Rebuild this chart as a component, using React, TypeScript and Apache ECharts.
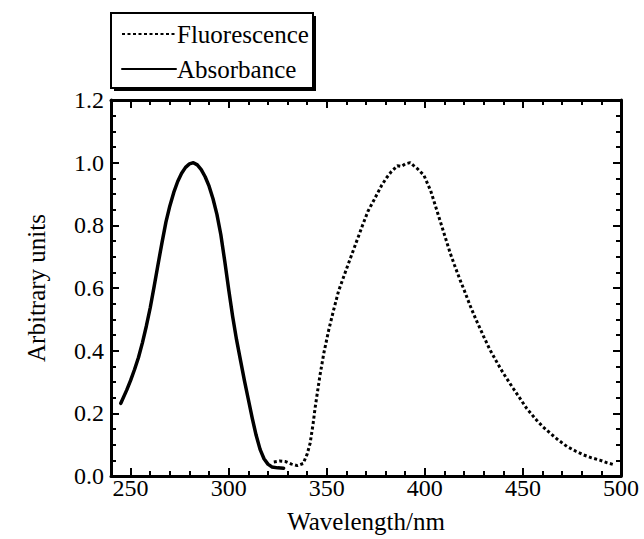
import React, { useEffect, useRef } from "react";
import * as echarts from "echarts";

const absX = [245, 248, 250, 252, 254, 256, 258, 260, 262, 264, 266, 268, 270, 272, 274, 276, 278, 280, 282, 284, 286, 288, 290, 292, 294, 296, 298, 300, 302, 304, 306, 308, 310, 312, 314, 316, 318, 320, 322, 325, 328];
const absY = [0.232, 0.274, 0.305, 0.34, 0.378, 0.425, 0.478, 0.537, 0.605, 0.676, 0.745, 0.81, 0.862, 0.905, 0.94, 0.966, 0.985, 0.996, 1.0, 0.993, 0.978, 0.955, 0.925, 0.885, 0.835, 0.77, 0.685, 0.595, 0.51, 0.435, 0.37, 0.305, 0.245, 0.185, 0.13, 0.085, 0.055, 0.038, 0.029, 0.026, 0.025];

const fluX = [323, 326, 329, 332, 335, 338, 340, 341.5, 343, 344, 346.5, 348.5, 351, 353.5, 356, 360, 363, 365, 368, 371, 374, 376.5, 378, 380.5, 383, 386, 388, 390, 392.5, 394, 396, 399.5, 403, 405.5, 408, 410.5, 413, 415, 418, 420, 423, 426, 430, 433, 437, 440, 445, 449, 452, 457, 460, 464, 468, 472.5, 477, 481, 485, 489.5, 493, 497];
const fluY = [0.045, 0.048, 0.046, 0.038, 0.033, 0.04, 0.07, 0.104, 0.165, 0.215, 0.32, 0.392, 0.466, 0.53, 0.59, 0.66, 0.711, 0.745, 0.796, 0.845, 0.88, 0.91, 0.928, 0.952, 0.972, 0.99, 0.988, 0.996, 1.0, 0.992, 0.982, 0.96, 0.91, 0.86, 0.81, 0.76, 0.71, 0.675, 0.625, 0.594, 0.545, 0.5, 0.445, 0.405, 0.36, 0.328, 0.28, 0.243, 0.215, 0.178, 0.158, 0.136, 0.115, 0.094, 0.079, 0.067, 0.058, 0.05, 0.042, 0.035];

const seriesNames = ["Fluorescence", "Absorbance"];
const xName = "Wavelength/nm";
const yName = "Arbitrary units";

const FONT = "'Liberation Serif', 'Times New Roman', Times, serif";
const INK = "#000";

export default function App() {
  const ref = useRef<HTMLDivElement>(null);
  useEffect(() => {
    if (!ref.current) return;
    const chart = echarts.init(ref.current, undefined, { renderer: "svg" });
    const xBase = {
      type: "value",
      min: 240,
      max: 500,
      splitNumber: 5,
      splitLine: { show: false },
      axisLine: { show: true, onZero: false, lineStyle: { color: INK, width: 3 } },
      axisTick: { show: true, inside: true, length: 8, lineStyle: { color: INK, width: 2 } },
      minorTick: { show: true, splitNumber: 5, length: 5, lineStyle: { color: INK, width: 2 } },
    };
    const yBase = {
      type: "value",
      min: 0,
      max: 1.2,
      interval: 0.2,
      splitLine: { show: false },
      axisLine: { show: true, onZero: false, lineStyle: { color: INK, width: 3 } },
      axisTick: { show: true, inside: true, length: 8, lineStyle: { color: INK, width: 2 } },
      minorTick: { show: true, splitNumber: 4, length: 5, lineStyle: { color: INK, width: 2 } },
    };
    chart.setOption({
      animation: false,
      backgroundColor: "#fff",
      grid: { left: 111, right: 23, top: 100, bottom: 63, containLabel: false },
      graphic: [
        { type: "rect", z: 1, shape: { x: 114, y: 16, width: 202, height: 75 }, style: { fill: INK } },
        { type: "rect", z: 2, shape: { x: 111, y: 13, width: 202, height: 75 }, style: { fill: "#fff", stroke: INK, lineWidth: 2 } },
      ],
      legend: {
        z: 10,
        orient: "vertical",
        left: 121,
        top: 20,
        padding: 0,
        itemGap: 7,
        itemWidth: 54,
        itemHeight: 14,
        itemStyle: { opacity: 0, borderWidth: 0 },
        data: seriesNames,
        textStyle: { fontFamily: FONT, fontSize: 25, color: INK, lineHeight: 28, padding: [0, 0, 0, -4] },
      },
      xAxis: [
        {
          ...xBase,
          position: "bottom",
          name: xName,
          nameLocation: "middle",
          nameGap: 33,
          nameTextStyle: { fontFamily: FONT, fontSize: 25, color: INK },
          axisLabel: { show: true, showMinLabel: false, margin: 0, fontFamily: FONT, fontSize: 24, color: INK },
        },
        { ...xBase, position: "top", axisLabel: { show: false } },
      ],
      yAxis: [
        {
          ...yBase,
          position: "left",
          name: yName,
          nameLocation: "middle",
          nameGap: 62,
          nameTextStyle: { fontFamily: FONT, fontSize: 25, color: INK },
          axisLabel: { show: true, margin: 7, fontFamily: FONT, fontSize: 24, color: INK, formatter: (v: number) => v.toFixed(1) },
        },
        { ...yBase, position: "right", axisLabel: { show: false } },
      ],
      series: [
        {
          name: seriesNames[0],
          type: "line",
          xAxisIndex: 0,
          yAxisIndex: 0,
          symbol: "none",
          smooth: false,
          data: fluX.map((x, i) => [x, fluY[i]]),
          lineStyle: { color: INK, width: 3, type: [3, 2.5], cap: "butt" },
          itemStyle: { color: INK },
        },
        {
          name: seriesNames[1],
          type: "line",
          xAxisIndex: 0,
          yAxisIndex: 0,
          symbol: "none",
          smooth: false,
          data: absX.map((x, i) => [x, absY[i]]),
          lineStyle: { color: INK, width: 3.5, cap: "round", join: "round" },
          itemStyle: { color: INK },
        },
      ],
    });
    return () => chart.dispose();
  }, []);
  return <div ref={ref} style={{ width: 644, height: 539, position: "absolute", left: 0, top: 0 }} />;
}
